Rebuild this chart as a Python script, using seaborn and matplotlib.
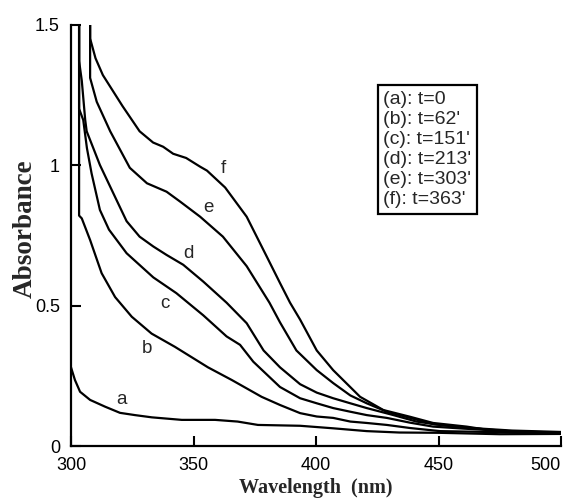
import matplotlib
matplotlib.use("Agg")
import matplotlib.pyplot as plt
import pandas as pd
import seaborn as sns

# spectra (values above 1.5 are off-scale and get clipped)
wl_a = [300, 301.6, 303.7, 307.8, 313.9, 320, 326.1, 333, 345.2, 358.8, 368, 376.3, 393.5, 407, 420.7, 434, 450, 475, 500]
abs_a = [0.28, 0.235, 0.193, 0.164, 0.14, 0.118, 0.11, 0.102, 0.093, 0.093, 0.087, 0.075, 0.072, 0.063, 0.053, 0.048, 0.047, 0.042, 0.043]

wl_b = [303.3, 303.3, 304.4, 307.8, 311.1, 312.5, 318, 324.8, 332.9, 342.4, 355.9, 365.6, 377.8, 385.3, 393.5, 400.3, 407, 414, 420.7, 428.9, 438.4, 450.6, 470, 500]
abs_b = [2.0, 0.82, 0.81, 0.733, 0.65, 0.615, 0.53, 0.46, 0.40, 0.353, 0.28, 0.235, 0.175, 0.146, 0.117, 0.105, 0.10, 0.087, 0.082, 0.075, 0.064, 0.053, 0.05, 0.046]

wl_c = [303.3, 303.3, 305, 306.5, 308.4, 311.8, 315.5, 322.7, 333.6, 343, 354, 363.5, 369, 374.4, 385.3, 393.5, 400.3, 407, 414, 420.7, 428.9, 438.4, 447.8, 460, 480, 500]
abs_c = [2.0, 1.20, 1.16, 1.06, 0.97, 0.84, 0.77, 0.686, 0.60, 0.544, 0.465, 0.39, 0.36, 0.30, 0.21, 0.17, 0.152, 0.135, 0.122, 0.11, 0.10, 0.083, 0.069, 0.062, 0.052, 0.047]

wl_d = [303.3, 303.3, 304.4, 305.8, 306.4, 311.8, 318.6, 322.7, 328, 333.6, 339, 345.8, 354, 363.5, 371.7, 378.6, 385.3, 393.5, 400.3, 407, 414, 420.7, 431.6, 441, 450.6, 465, 480, 500]
abs_d = [2.0, 1.37, 1.30, 1.16, 1.12, 1.0, 0.875, 0.80, 0.745, 0.71, 0.68, 0.645, 0.585, 0.51, 0.437, 0.34, 0.28, 0.22, 0.19, 0.17, 0.152, 0.135, 0.11, 0.087, 0.075, 0.062, 0.052, 0.048]

wl_e = [307.8, 307.8, 310.5, 316, 324, 331, 339, 344.5, 352.7, 362, 371.7, 381, 385.3, 392, 400.3, 407, 414, 420.7, 428.9, 438.4, 447.8, 460, 480, 500]
abs_e = [2.0, 1.31, 1.225, 1.12, 0.99, 0.935, 0.905, 0.87, 0.816, 0.745, 0.64, 0.51, 0.44, 0.34, 0.27, 0.224, 0.18, 0.152, 0.122, 0.10, 0.078, 0.066, 0.055, 0.05]

wl_f = [307.8, 307.8, 310, 313, 321, 328, 333.5, 337.6, 341.7, 347, 352.7, 355.5, 362.9, 371.7, 379.9, 385.3, 389.4, 393.5, 400.3, 407, 418, 427.5, 438.4, 447.8, 461.5, 475, 500]
abs_f = [2.0, 1.45, 1.38, 1.32, 1.21, 1.12, 1.08, 1.065, 1.04, 1.025, 0.994, 0.98, 0.92, 0.816, 0.674, 0.58, 0.51, 0.45, 0.34, 0.27, 0.175, 0.128, 0.104, 0.082, 0.069, 0.051, 0.046]

curve_names = ["a", "b", "c", "d", "e", "f"]
legend_lines = ["(a): t=0", "(b): t=62'", "(c): t=151'", "(d): t=213'", "(e): t=303'", "(f): t=363'"]
label_pos = {"a": (320.7, 0.164), "b": (330.9, 0.348), "c": (338.4, 0.508),
             "d": (347.9, 0.686), "e": (356.0, 0.849), "f": (362.2, 0.988)}

xticks = [300, 350, 400, 450, 500]
yticks = [0, 0.5, 1, 1.5]
ytick_labels = ["0", "0.5", "1", "1.5"]

series = {"a": (wl_a, abs_a), "b": (wl_b, abs_b), "c": (wl_c, abs_c),
          "d": (wl_d, abs_d), "e": (wl_e, abs_e), "f": (wl_f, abs_f)}

sns.set_style("ticks")
plt.rcParams['font.family'] = ['Liberation Sans', 'DejaVu Sans']

fig = plt.figure(figsize=(5.74, 4.98), dpi=100)
ax = fig.add_axes([0.1237, 0.1044, 0.8537, 0.8464])

for name in curve_names:
    x, y = series[name]
    df = pd.DataFrame({"wl": x, "A": y})
    sns.lineplot(data=df, x="wl", y="A", ax=ax, color="black", lw=1.6,
                 sort=False, estimator=None)
    lx, ly = label_pos[name]
    ax.text(lx, ly, name, fontsize=13.5, ha="center", va="center")

ax.set_xlim(300, 500)
ax.set_ylim(0, 1.5)
ax.set_xticks(xticks)
ax.set_xticklabels([str(t) for t in xticks])
ax.set_yticks(yticks)
ax.set_yticklabels(ytick_labels)
ax.tick_params(direction="in", length=7, width=1.5, labelsize=13, pad=8, colors="black")
ax.get_xticklabels()[-1].set_ha("right")
sns.despine(ax=ax)
for s in ["left", "bottom"]:
    ax.spines[s].set_linewidth(1.6)
    ax.spines[s].set_color("black")

ax.set_xlabel("Wavelength  (nm)", family="Liberation Serif", fontweight="bold", fontsize=14.5, labelpad=3)
ax.set_ylabel("Absorbance", family="Liberation Serif", fontweight="bold", fontsize=19.5)
ax.yaxis.set_label_coords(-0.068, 0.515)

ax.text(0.637, 0.843, "\n".join(legend_lines), transform=ax.transAxes, fontsize=14,
        ha="left", va="top", linespacing=1.24,
        bbox=dict(boxstyle="square,pad=0.28", fc="white", ec="black", lw=1.6))

fig.savefig("out.png", dpi=100)
